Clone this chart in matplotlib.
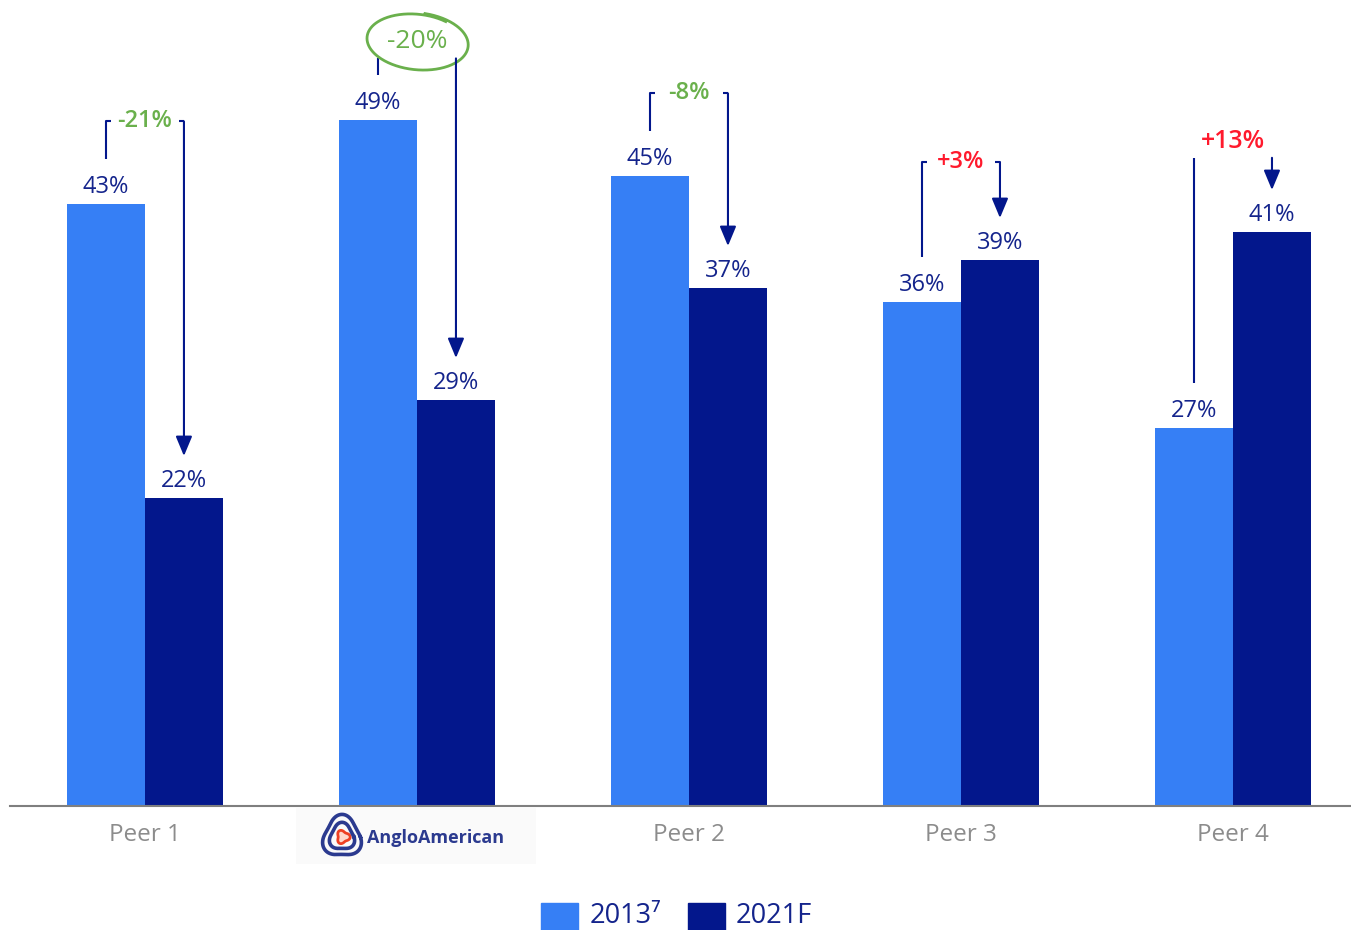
import numpy as np
import matplotlib
matplotlib.use('Agg')
import matplotlib.pyplot as plt
from matplotlib.patches import Rectangle

plt.rcParams['font.family'] = ['Open Sans', 'DejaVu Sans']

# ======================================================================================================
# data: net debt / gearing share per company, 2013 vs 2021 forecast

categories = ['Peer 1', 'Anglo American', 'Peer 2', 'Peer 3', 'Peer 4']
share_2013 = [43, 49, 45, 36, 27]
share_2021 = [22, 29, 37, 39, 41]
change_pts = [-21, -20, -8, 3, 13]

LIGHT = '#367ff5'
DARK = '#03178c'
LABEL = '#14248c'
GREEN = '#6ab04c'
RED = '#ff1a2d'
GREY = '#8c8c8c'

W, H = 1351, 930
fig = plt.figure(figsize=(W / 100, H / 100), dpi=100)
ax = fig.add_axes([10 / W, (H - 806) / H, (W - 10) / W, 806 / H])

x = np.arange(len(categories))
bw = 0.287
ax.bar(x - bw / 2, share_2013, bw, color=LIGHT)
ax.bar(x + bw / 2, share_2021, bw, color=DARK)

ax.set_xlim(-0.496, 4.434)
ax.set_ylim(0, 806 / 14)

for s in ['top', 'left', 'right']:
    ax.spines[s].set_visible(False)
ax.spines['bottom'].set_color('#7f7f7f')
ax.spines['bottom'].set_linewidth(1.5)
ax.set_yticks([])
tick_labels = [c if not c.startswith('Anglo') else '' for c in categories]
ax.set_xticks(x, tick_labels)
ax.tick_params(axis='x', length=0, pad=12, labelsize=17.5, labelcolor=GREY)

# value labels on top of bars
for i in range(len(categories)):
    ax.text(x[i] - bw / 2, share_2013[i] + 0.8, f'{share_2013[i]}%', ha='center', va='baseline',
            fontsize=17, color=LABEL)
    ax.text(x[i] + bw / 2, share_2021[i] + 0.8, f'{share_2021[i]}%', ha='center', va='baseline',
            fontsize=17, color=LABEL)

# change brackets with arrow down to the 2021 bar
pads = [5.9, 4.4, 5.9, 7.0, 5.3]
closed = [True, False, True, True, False]
tk = 0.02
for i in range(len(categories)):
    v1, v2 = share_2013[i], share_2021[i]
    x1, x2 = x[i] - bw / 2, x[i] + bw / 2
    top = max(v1, v2) + pads[i]
    col = GREEN if change_pts[i] < 0 else RED
    txt = f'{change_pts[i]:+d}%'
    if closed[i]:
        ax.plot([x1, x1, x1 + tk], [v1 + 3.2, top, top], color=DARK, lw=1.5, solid_capstyle='butt')
        ax.plot([x2 - tk, x2], [top, top], color=DARK, lw=1.5, solid_capstyle='butt')
        ax.text(x[i], top, txt, ha='center', va='center', fontsize=17, fontweight='semibold', color=col)
    else:
        ax.plot([x1, x1], [v1 + 3.2, top], color=DARK, lw=1.5, solid_capstyle='butt')
        if i == 1:
            ax.text(x[i], top + 1.2, txt, ha='center', va='center', fontsize=19, color=col)
        else:
            ax.text(x[i], top + 1.2, txt, ha='center', va='center', fontsize=18, fontweight='semibold', color=col)
    ax.annotate('', xy=(x2, v2 + 3.0), xytext=(x2, top),
                arrowprops=dict(arrowstyle='-|>,head_length=0.6,head_width=0.25', color=DARK, lw=1.5,
                                shrinkA=0, shrinkB=0, mutation_scale=20))

# hand drawn ring round the Anglo American change
cx, cy = 1.0, 53.4 + 1.2
a, b = 0.18, 1.95
t = np.linspace(0.3 * np.pi, 2.45 * np.pi, 300)
sc = 1 + 0.06 * (t - 0.3 * np.pi) / (2.15 * np.pi)
ex = cx + a * np.cos(t) * sc
ey = cy + b * np.sin(t) * sc - 0.25 * np.cos(t)
ax.plot(ex, ey, color=GREEN, lw=2, clip_on=False)

# Anglo American logo under the second group
lax = fig.add_axes([296 / W, (H - 864) / H, 240 / W, 56 / H])
lax.set_xlim(296, 536)
lax.set_ylim(864, 808)
lax.axis('off')
lax.add_patch(Rectangle((296, 808), 240, 56, color='#fafafa', zorder=0))
th = np.linspace(0, 2 * np.pi, 200)
for r, lw in [(20, 2.6), (13, 2.6)]:
    rr = r * (1 + 0.13 * np.cos(3 * (th + np.pi / 2)))
    lax.plot(342 + rr * np.cos(th) * 0.92, 836 + rr * np.sin(th) + 1, color='#2b3a8f', lw=lw)
rr = 6 * (1 + 0.2 * np.cos(3 * th))
lax.fill(343 + rr * np.cos(th), 837 + rr * np.sin(th), facecolor='#ffd9cc', edgecolor='#ee4023', lw=2)
lax.text(367, 838, 'AngloAmerican', ha='left', va='center', fontsize=13, fontweight='bold', color='#2b3a8f')

# legend
fig.add_artist(Rectangle((541 / W, 0), 37 / W, 27 / H, transform=fig.transFigure, color=LIGHT))
fig.add_artist(Rectangle((688 / W, 0), 37 / W, 27 / H, transform=fig.transFigure, color=DARK))
fig.text(590 / W, (H - 923) / H, '2013\u2077', va='baseline', fontsize=19.5, color=LABEL)
fig.text(736 / W, (H - 923) / H, '2021F', va='baseline', fontsize=19.5, color=LABEL)

plt.savefig('out.png', dpi=100)
